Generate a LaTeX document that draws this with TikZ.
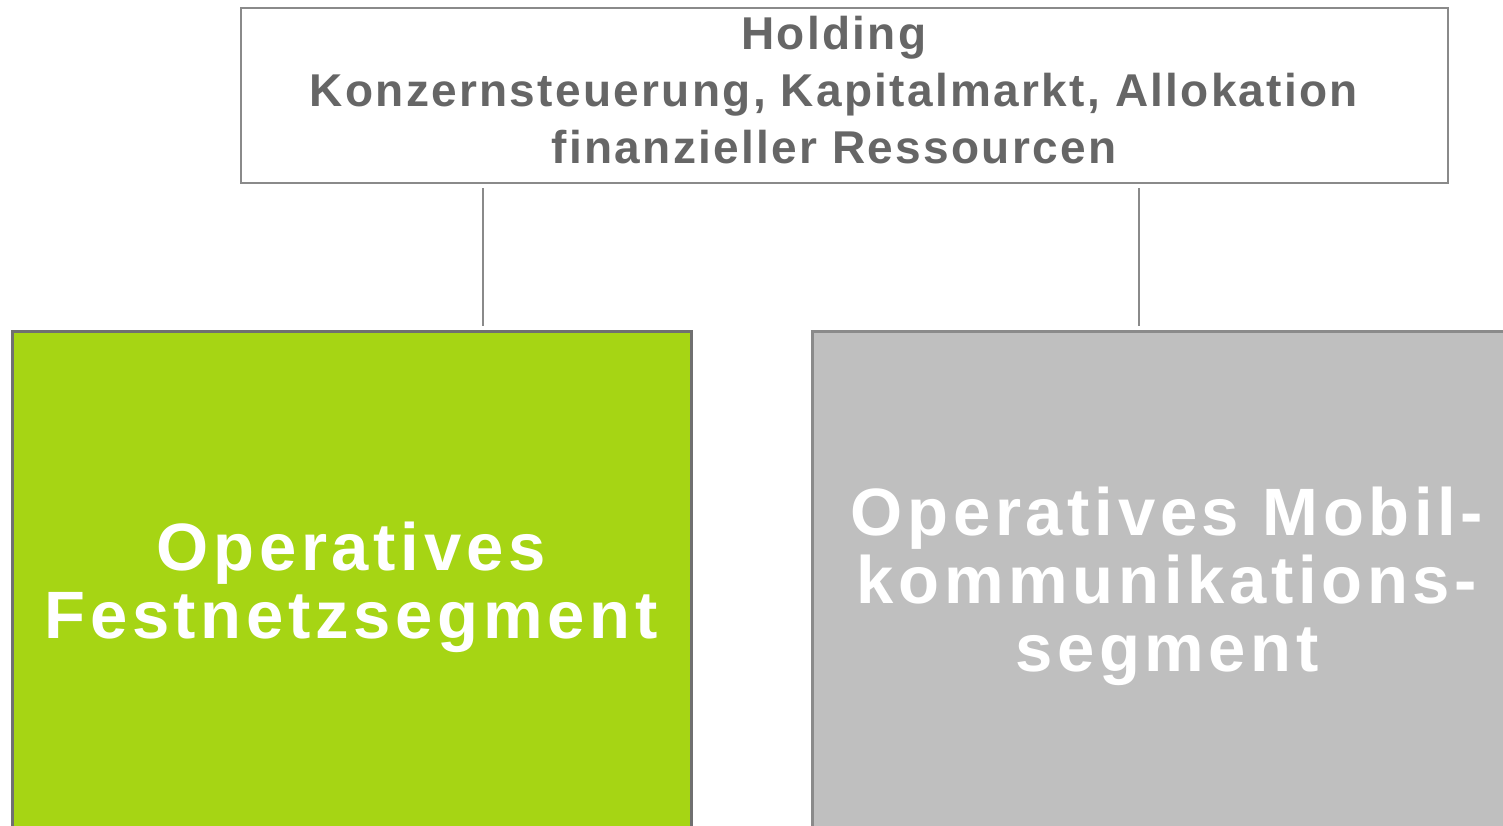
\documentclass[tikz,border=0pt]{standalone}
\usepackage{fontspec}
\setmainfont{Liberation Sans}
\newfontfamily\topfont[LetterSpace=5]{Liberation Sans}
\newfontfamily\segfont[LetterSpace=7]{Liberation Sans}
\definecolor{topgray}{HTML}{666666}
\definecolor{framegray}{HTML}{8A8A8A}
\definecolor{darkframe}{HTML}{707070}
\definecolor{seggreen}{HTML}{A6D514}
\definecolor{seggray}{HTML}{BFBFBF}
\begin{document}
\begin{tikzpicture}[x=1pt,y=-1pt,
  topbox/.style={draw=framegray,line width=2.5pt,fill=white,rectangle,inner sep=0pt},
  segbox/.style={rectangle,inner sep=0pt,line width=3pt},
  toptxt/.style={text=topgray,font=\topfont\fontsize{46}{57}\selectfont\bfseries,align=center,inner sep=0pt},
  segtxt/.style={text=white,font=\segfont\fontsize{67}{68}\selectfont\bfseries,align=center,inner sep=0pt},
  conn/.style={draw=framegray,line width=2.5pt}]
\useasboundingbox (0,0) rectangle (1503,826);
\clip (0,0) rectangle (1503,826);
\node[topbox,minimum width=1207pt,minimum height=175pt] (top) at (844.5,95.5) {};
\node[toptxt] (toptext) at (834,90) {Holding\\Konzernsteuerung, Kapitalmarkt, Allokation\\finanzieller Ressourcen};
\node[segbox,draw=darkframe,fill=seggreen,minimum width=679pt,minimum height=510pt] (green) at (351.5,586) {};
\node[segbox,draw=framegray,fill=seggray,minimum width=710pt,minimum height=510pt] (gray) at (1167,586) {};
\node[segtxt] (greentext) at (351,587) {Operatives\\Festnetzsegment};
\node[segtxt] (graytext) at (1167,586) {Operatives Mobil-\\kommunikations-\\segment};
\coordinate (c1) at ([xshift=243pt]top.south west);
\coordinate (c2) at ([xshift=899pt]top.south west);
\draw[conn,shorten <=4pt,shorten >=4pt] (c1) -- (c1 |- green.north);
\draw[conn,shorten <=4pt,shorten >=4pt] (c2) -- (c2 |- gray.north);
\end{tikzpicture}
\end{document}
